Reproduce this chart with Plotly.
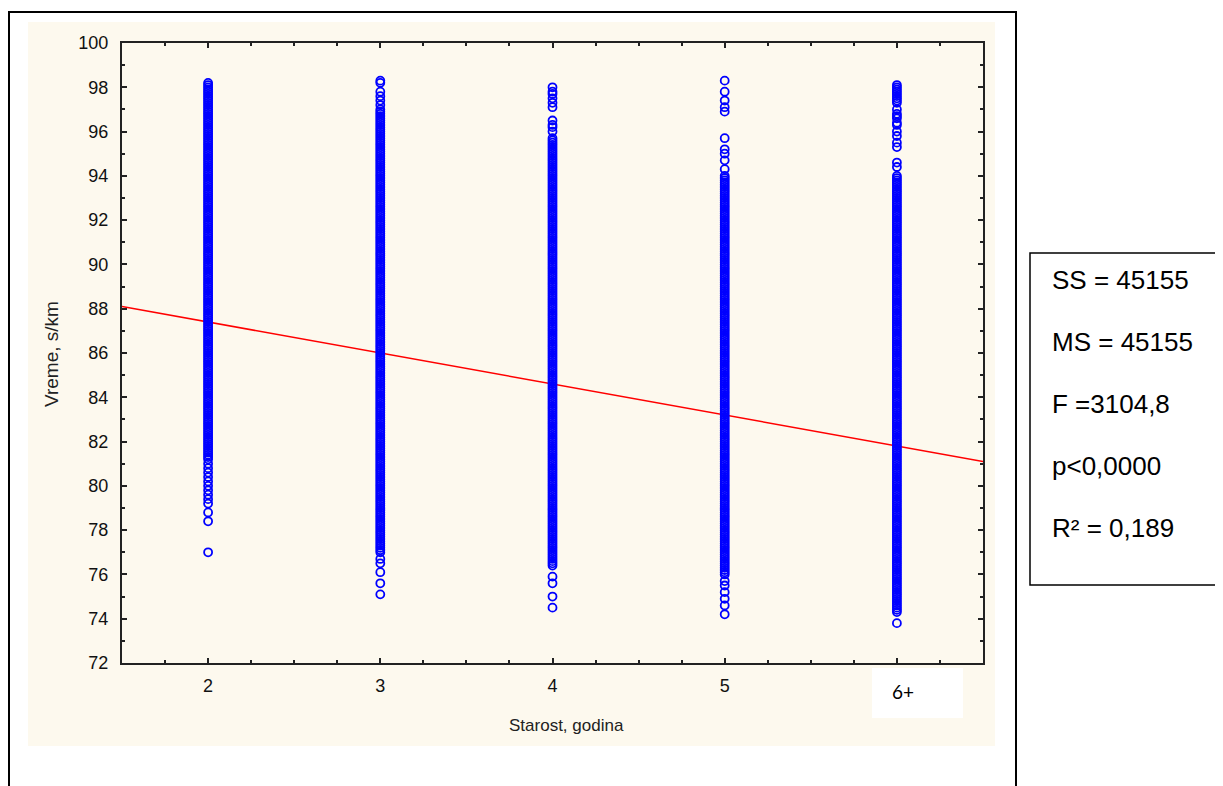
import plotly.graph_objects as go

# ---------------- data ----------------
categories = ["2", "3", "4", "5", "6+"]
age_x = [2, 3, 4, 5, 6]

times_age2 = [
    77.0, 78.4, 78.8, 79.2, 79.4, 79.6, 79.8, 80.0, 80.2, 80.4, 80.6, 80.8, 81.0,
    81.2, 81.3, 81.4, 81.5, 81.6, 81.7, 81.8, 81.9,
    82.0, 82.1, 82.2, 82.3, 82.4, 82.5, 82.6, 82.7, 82.8, 82.9,
    83.0, 83.1, 83.2, 83.3, 83.4, 83.5, 83.6, 83.7, 83.8, 83.9,
    84.0, 84.1, 84.2, 84.3, 84.4, 84.5, 84.6, 84.7, 84.8, 84.9,
    85.0, 85.1, 85.2, 85.3, 85.4, 85.5, 85.6, 85.7, 85.8, 85.9,
    86.0, 86.1, 86.2, 86.3, 86.4, 86.5, 86.6, 86.7, 86.8, 86.9,
    87.0, 87.1, 87.2, 87.3, 87.4, 87.5, 87.6, 87.7, 87.8, 87.9,
    88.0, 88.1, 88.2, 88.3, 88.4, 88.5, 88.6, 88.7, 88.8, 88.9,
    89.0, 89.1, 89.2, 89.3, 89.4, 89.5, 89.6, 89.7, 89.8, 89.9,
    90.0, 90.1, 90.2, 90.3, 90.4, 90.5, 90.6, 90.7, 90.8, 90.9,
    91.0, 91.1, 91.2, 91.3, 91.4, 91.5, 91.6, 91.7, 91.8, 91.9,
    92.0, 92.1, 92.2, 92.3, 92.4, 92.5, 92.6, 92.7, 92.8, 92.9,
    93.0, 93.1, 93.2, 93.3, 93.4, 93.5, 93.6, 93.7, 93.8, 93.9,
    94.0, 94.1, 94.2, 94.3, 94.4, 94.5, 94.6, 94.7, 94.8, 94.9,
    95.0, 95.1, 95.2, 95.3, 95.4, 95.5, 95.6, 95.7, 95.8, 95.9,
    96.0, 96.1, 96.2, 96.3, 96.4, 96.5, 96.6, 96.7, 96.8, 96.9,
    97.0, 97.1, 97.2, 97.3, 97.4, 97.5, 97.6, 97.7, 97.8, 97.9,
    98.0, 98.1, 98.2,
]

times_age3 = [
    75.1, 75.6, 76.1, 76.5, 76.7,
    77.0, 77.1, 77.2, 77.3, 77.4, 77.5, 77.6, 77.7, 77.8, 77.9,
    78.0, 78.1, 78.2, 78.3, 78.4, 78.5, 78.6, 78.7, 78.8, 78.9,
    79.0, 79.1, 79.2, 79.3, 79.4, 79.5, 79.6, 79.7, 79.8, 79.9,
    80.0, 80.1, 80.2, 80.3, 80.4, 80.5, 80.6, 80.7, 80.8, 80.9,
    81.0, 81.1, 81.2, 81.3, 81.4, 81.5, 81.6, 81.7, 81.8, 81.9,
    82.0, 82.1, 82.2, 82.3, 82.4, 82.5, 82.6, 82.7, 82.8, 82.9,
    83.0, 83.1, 83.2, 83.3, 83.4, 83.5, 83.6, 83.7, 83.8, 83.9,
    84.0, 84.1, 84.2, 84.3, 84.4, 84.5, 84.6, 84.7, 84.8, 84.9,
    85.0, 85.1, 85.2, 85.3, 85.4, 85.5, 85.6, 85.7, 85.8, 85.9,
    86.0, 86.1, 86.2, 86.3, 86.4, 86.5, 86.6, 86.7, 86.8, 86.9,
    87.0, 87.1, 87.2, 87.3, 87.4, 87.5, 87.6, 87.7, 87.8, 87.9,
    88.0, 88.1, 88.2, 88.3, 88.4, 88.5, 88.6, 88.7, 88.8, 88.9,
    89.0, 89.1, 89.2, 89.3, 89.4, 89.5, 89.6, 89.7, 89.8, 89.9,
    90.0, 90.1, 90.2, 90.3, 90.4, 90.5, 90.6, 90.7, 90.8, 90.9,
    91.0, 91.1, 91.2, 91.3, 91.4, 91.5, 91.6, 91.7, 91.8, 91.9,
    92.0, 92.1, 92.2, 92.3, 92.4, 92.5, 92.6, 92.7, 92.8, 92.9,
    93.0, 93.1, 93.2, 93.3, 93.4, 93.5, 93.6, 93.7, 93.8, 93.9,
    94.0, 94.1, 94.2, 94.3, 94.4, 94.5, 94.6, 94.7, 94.8, 94.9,
    95.0, 95.1, 95.2, 95.3, 95.4, 95.5, 95.6, 95.7, 95.8, 95.9,
    96.0, 96.1, 96.2, 96.3, 96.4, 96.5, 96.6, 96.7, 96.8, 96.9,
    97.0, 97.2, 97.4, 97.6, 97.8, 98.2, 98.3,
]

times_age4 = [
    74.5, 75.0, 75.6, 75.9,
    76.4, 76.5, 76.6, 76.7, 76.8, 76.9,
    77.0, 77.1, 77.2, 77.3, 77.4, 77.5, 77.6, 77.7, 77.8, 77.9,
    78.0, 78.1, 78.2, 78.3, 78.4, 78.5, 78.6, 78.7, 78.8, 78.9,
    79.0, 79.1, 79.2, 79.3, 79.4, 79.5, 79.6, 79.7, 79.8, 79.9,
    80.0, 80.1, 80.2, 80.3, 80.4, 80.5, 80.6, 80.7, 80.8, 80.9,
    81.0, 81.1, 81.2, 81.3, 81.4, 81.5, 81.6, 81.7, 81.8, 81.9,
    82.0, 82.1, 82.2, 82.3, 82.4, 82.5, 82.6, 82.7, 82.8, 82.9,
    83.0, 83.1, 83.2, 83.3, 83.4, 83.5, 83.6, 83.7, 83.8, 83.9,
    84.0, 84.1, 84.2, 84.3, 84.4, 84.5, 84.6, 84.7, 84.8, 84.9,
    85.0, 85.1, 85.2, 85.3, 85.4, 85.5, 85.6, 85.7, 85.8, 85.9,
    86.0, 86.1, 86.2, 86.3, 86.4, 86.5, 86.6, 86.7, 86.8, 86.9,
    87.0, 87.1, 87.2, 87.3, 87.4, 87.5, 87.6, 87.7, 87.8, 87.9,
    88.0, 88.1, 88.2, 88.3, 88.4, 88.5, 88.6, 88.7, 88.8, 88.9,
    89.0, 89.1, 89.2, 89.3, 89.4, 89.5, 89.6, 89.7, 89.8, 89.9,
    90.0, 90.1, 90.2, 90.3, 90.4, 90.5, 90.6, 90.7, 90.8, 90.9,
    91.0, 91.1, 91.2, 91.3, 91.4, 91.5, 91.6, 91.7, 91.8, 91.9,
    92.0, 92.1, 92.2, 92.3, 92.4, 92.5, 92.6, 92.7, 92.8, 92.9,
    93.0, 93.1, 93.2, 93.3, 93.4, 93.5, 93.6, 93.7, 93.8, 93.9,
    94.0, 94.1, 94.2, 94.3, 94.4, 94.5, 94.6, 94.7, 94.8, 94.9,
    95.0, 95.1, 95.2, 95.3, 95.4, 95.5, 95.6, 95.7,
    96.0, 96.2, 96.3, 96.5, 97.1, 97.3, 97.5, 97.7, 97.8, 98.0,
]

times_age5 = [
    74.2, 74.6, 74.9, 75.2, 75.5, 75.7,
    76.0, 76.1, 76.2, 76.3, 76.4, 76.5, 76.6, 76.7, 76.8, 76.9,
    77.0, 77.1, 77.2, 77.3, 77.4, 77.5, 77.6, 77.7, 77.8, 77.9,
    78.0, 78.1, 78.2, 78.3, 78.4, 78.5, 78.6, 78.7, 78.8, 78.9,
    79.0, 79.1, 79.2, 79.3, 79.4, 79.5, 79.6, 79.7, 79.8, 79.9,
    80.0, 80.1, 80.2, 80.3, 80.4, 80.5, 80.6, 80.7, 80.8, 80.9,
    81.0, 81.1, 81.2, 81.3, 81.4, 81.5, 81.6, 81.7, 81.8, 81.9,
    82.0, 82.1, 82.2, 82.3, 82.4, 82.5, 82.6, 82.7, 82.8, 82.9,
    83.0, 83.1, 83.2, 83.3, 83.4, 83.5, 83.6, 83.7, 83.8, 83.9,
    84.0, 84.1, 84.2, 84.3, 84.4, 84.5, 84.6, 84.7, 84.8, 84.9,
    85.0, 85.1, 85.2, 85.3, 85.4, 85.5, 85.6, 85.7, 85.8, 85.9,
    86.0, 86.1, 86.2, 86.3, 86.4, 86.5, 86.6, 86.7, 86.8, 86.9,
    87.0, 87.1, 87.2, 87.3, 87.4, 87.5, 87.6, 87.7, 87.8, 87.9,
    88.0, 88.1, 88.2, 88.3, 88.4, 88.5, 88.6, 88.7, 88.8, 88.9,
    89.0, 89.1, 89.2, 89.3, 89.4, 89.5, 89.6, 89.7, 89.8, 89.9,
    90.0, 90.1, 90.2, 90.3, 90.4, 90.5, 90.6, 90.7, 90.8, 90.9,
    91.0, 91.1, 91.2, 91.3, 91.4, 91.5, 91.6, 91.7, 91.8, 91.9,
    92.0, 92.1, 92.2, 92.3, 92.4, 92.5, 92.6, 92.7, 92.8, 92.9,
    93.0, 93.1, 93.2, 93.3, 93.4, 93.5, 93.6, 93.7, 93.8, 93.9,
    94.0, 94.3, 94.7, 95.0, 95.2, 95.7, 96.9, 97.1, 97.4, 97.8, 98.3,
]

times_age6 = [
    73.8,
    74.3, 74.4, 74.5, 74.6, 74.7, 74.8, 74.9,
    75.0, 75.1, 75.2, 75.3, 75.4, 75.5, 75.6, 75.7, 75.8, 75.9,
    76.0, 76.1, 76.2, 76.3, 76.4, 76.5, 76.6, 76.7, 76.8, 76.9,
    77.0, 77.1, 77.2, 77.3, 77.4, 77.5, 77.6, 77.7, 77.8, 77.9,
    78.0, 78.1, 78.2, 78.3, 78.4, 78.5, 78.6, 78.7, 78.8, 78.9,
    79.0, 79.1, 79.2, 79.3, 79.4, 79.5, 79.6, 79.7, 79.8, 79.9,
    80.0, 80.1, 80.2, 80.3, 80.4, 80.5, 80.6, 80.7, 80.8, 80.9,
    81.0, 81.1, 81.2, 81.3, 81.4, 81.5, 81.6, 81.7, 81.8, 81.9,
    82.0, 82.1, 82.2, 82.3, 82.4, 82.5, 82.6, 82.7, 82.8, 82.9,
    83.0, 83.1, 83.2, 83.3, 83.4, 83.5, 83.6, 83.7, 83.8, 83.9,
    84.0, 84.1, 84.2, 84.3, 84.4, 84.5, 84.6, 84.7, 84.8, 84.9,
    85.0, 85.1, 85.2, 85.3, 85.4, 85.5, 85.6, 85.7, 85.8, 85.9,
    86.0, 86.1, 86.2, 86.3, 86.4, 86.5, 86.6, 86.7, 86.8, 86.9,
    87.0, 87.1, 87.2, 87.3, 87.4, 87.5, 87.6, 87.7, 87.8, 87.9,
    88.0, 88.1, 88.2, 88.3, 88.4, 88.5, 88.6, 88.7, 88.8, 88.9,
    89.0, 89.1, 89.2, 89.3, 89.4, 89.5, 89.6, 89.7, 89.8, 89.9,
    90.0, 90.1, 90.2, 90.3, 90.4, 90.5, 90.6, 90.7, 90.8, 90.9,
    91.0, 91.1, 91.2, 91.3, 91.4, 91.5, 91.6, 91.7, 91.8, 91.9,
    92.0, 92.1, 92.2, 92.3, 92.4, 92.5, 92.6, 92.7, 92.8, 92.9,
    93.0, 93.1, 93.2, 93.3, 93.4, 93.5, 93.6, 93.7, 93.8, 93.9,
    94.0, 94.4, 94.6, 95.3, 95.5, 95.8, 96.0, 96.3, 96.4, 96.6, 96.7, 96.8,
    97.0, 97.3, 97.4, 97.5, 97.6, 97.7, 97.8, 97.9, 98.0, 98.1,
]

times_by_age = [times_age2, times_age3, times_age4, times_age5, times_age6]

# fitted regression line: time = intercept + slope * age
reg_intercept = 90.2
reg_slope = -1.4

stats_lines = ["SS = 45155", "MS = 45155", "F =3104,8", "p<0,0000", "R\u00b2 = 0,189"]

x_title = "Starost, godina"
y_title = "Vreme, s/km"

# ---------------- layout helpers ----------------
# The page body has an 8px margin, so the figure is drawn 8px smaller and
# all target pixel positions below are given in page (screenshot) pixels.
OFF = 8
W, H = 1223 - OFF, 786 - OFF
PL, PR, PT, PB = 122, 983, 43, 663   # plot-area edges in page pixels
x_range = [1.5, 6.5]
y_range = [72, 100]


def px(x):
    return (x - PL) / (PR - PL)


def py(y):
    return (PB - y) / (PB - PT)


FONT = "Liberation Sans, Arial, sans-serif"

fig = go.Figure()

# regression line
fig.add_trace(go.Scatter(
    x=x_range,
    y=[reg_intercept + reg_slope * v for v in x_range],
    mode="lines",
    line=dict(color="#FF0000", width=1.5),
    hoverinfo="skip",
    showlegend=False,
))

# points
xs, ys = [], []
for xv, vals in zip(age_x, times_by_age):
    xs.extend([xv] * len(vals))
    ys.extend(vals)

fig.add_trace(go.Scatter(
    x=xs, y=ys,
    mode="markers",
    marker=dict(symbol="circle-open", size=8, color="#0000FF",
                line=dict(width=1.8, color="#0000FF")),
    hoverinfo="skip",
    showlegend=False,
))

shapes = [
    # cream panel
    dict(type="rect", xref="paper", yref="paper",
         x0=px(28), x1=px(995), y0=py(746), y1=py(22),
         fillcolor="#FDF9EE", line=dict(width=0), layer="below"),
    # white patch behind the 6+ label
    dict(type="rect", xref="paper", yref="paper",
         x0=px(872), x1=px(963), y0=py(718), y1=py(668),
         fillcolor="#FFFFFF", line=dict(width=0), layer="below"),
    # outer frame
    dict(type="rect", xref="paper", yref="paper",
         x0=px(9), x1=px(1016), y0=py(810), y1=py(12),
         fillcolor="rgba(0,0,0,0)", line=dict(color="#000000", width=2), layer="below"),
    # stats box
    dict(type="rect", xref="paper", yref="paper",
         x0=px(1030), x1=px(1240), y0=py(585), y1=py(253),
         fillcolor="#FFFFFF", line=dict(color="#000000", width=1.5), layer="below"),
]

annotations = []
for i, s in enumerate(stats_lines):
    annotations.append(dict(
        text=s, xref="paper", yref="paper",
        x=px(1050), y=py(280 + 62 * i), xanchor="left", yanchor="middle",
        showarrow=False, font=dict(family=FONT, size=26, color="#000000"),
    ))

annotations.append(dict(
    text=y_title, xref="paper", yref="paper", x=px(51), y=py(354),
    textangle=-90, xanchor="center", yanchor="middle", showarrow=False,
    font=dict(family=FONT, size=19, color="#222222"),
))
annotations.append(dict(
    text=x_title, xref="paper", yref="paper", x=px(566), y=py(725),
    xanchor="center", yanchor="middle", showarrow=False,
    font=dict(family=FONT, size=17, color="#222222"),
))
annotations.append(dict(
    text=categories[-1], xref="paper", yref="paper", x=px(903), y=py(691),
    xanchor="center", yanchor="middle", showarrow=False,
    font=dict(family="Lato, Open Sans, sans-serif", size=19, color="#000000"),
))

axis_common = dict(
    showline=True, linecolor="#222222", linewidth=2, mirror="allticks",
    ticks="inside", ticklen=5, tickwidth=1.5, tickcolor="#222222",
    showgrid=False, zeroline=False,
    tickfont=dict(family=FONT, size=18, color="#111111"),
)

fig.update_layout(
    width=W, height=H,
    margin=dict(l=PL - OFF, r=W - (PR - OFF), t=PT - OFF, b=H - (PB - OFF), pad=0),
    paper_bgcolor="#FFFFFF", plot_bgcolor="#FFFFFF",
    shapes=shapes, annotations=annotations,
    xaxis=dict(
        range=x_range, tickmode="array", tickvals=age_x,
        ticktext=categories[:-1] + [""],
        minor=dict(tickmode="linear", tick0=1.5, dtick=0.25, ticks="inside",
                   ticklen=3, tickwidth=1.5, tickcolor="#222222"),
        ticklabelstandoff=5,
        **axis_common,
    ),
    yaxis=dict(
        range=y_range, tickmode="linear", tick0=72, dtick=2,
        minor=dict(tickmode="linear", tick0=72, dtick=1, ticks="inside",
                   ticklen=3, tickwidth=1.5, tickcolor="#222222"),
        ticklabelstandoff=8,
        **axis_common,
    ),
)

fig.write_html("out.html")
